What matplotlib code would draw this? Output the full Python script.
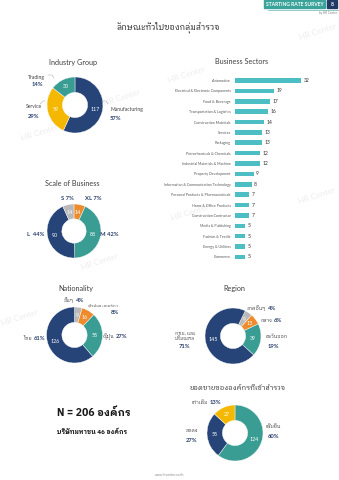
import matplotlib
matplotlib.use("Agg")
import numpy as np
import matplotlib.pyplot as plt
from matplotlib import font_manager as fm

# ---------------- data ----------------
title_main = "ลักษณะทั่วไปของกลุ่มสำรวจ"

industry_labels = ["Manufacturing", "Service", "Trading"]
industry_values = [117, 59, 30]
industry_pcts = ["57%", "29%", "14%"]

sector_names = ["Automotive", "Electrical & Electronic Components", "Food & Beverage",
                "Transportation & Logistics", "Construction Materials", "Services",
                "Packaging", "Petrochemicals & Chemicals", "Industrial Materials & Machine",
                "Property Development", "Information & Communication Technology",
                "Personal Products & Pharmaceuticals", "Home & Office Products",
                "Construction Contractor", "Media & Publishing", "Fashion & Textile",
                "Energy & Utilities", "Commerce"]
sector_values = [32, 19, 17, 16, 14, 13, 13, 12, 12, 9, 8, 7, 7, 7, 5, 5, 5, 5]

scale_labels = ["XL", "M", "L", "S"]
scale_values = [14, 88, 90, 14]
scale_pcts = ["7%", "42%", "44%", "7%"]

nation_labels = ["อื่นๆ", "ยุโรปและอเมริกา", "ญี่ปุ่น", "ไทย"]
nation_values = [9, 16, 55, 126]
nation_pcts = ["4%", "8%", "27%", "61%"]

region_labels = ["ภาคอื่นๆ", "กลาง", "ตะวันออก", "กทม. และ\nปริมณฑล"]
region_values = [9, 13, 39, 145]
region_pcts = ["4%", "6%", "19%", "71%"]

sales_title = "ยอดขายขององค์กรที่เข้าสำรวจ"
sales_labels = ["เพิ่มขึ้น", "ลดลง", "เท่าเดิม"]
sales_values = [124, 55, 27]
sales_pcts = ["60%", "27%", "13%"]

n_text = "N = 206 องค์กร"
public_text = "บริษัทมหาชน 46 องค์กร"

# ---------------- style ----------------
W, H = 339, 480
NAVY = "#264478"
TEAL = "#3a9d94"
YEL = "#f5b800"
ORG = "#ee8b2c"
GRAY = "#b9b9b9"
BAR = "#4dbfc4"
PCT = "#2a3f6b"
TXT = "#404040"

names = {f.name for f in fm.fontManager.ttflist}
thai = "DejaVu Sans"
for cand in ["IBM Plex Sans Thai Looped", "Noto Sans Thai Looped", "Noto Sans Thai",
             "Sarabun", "Prompt", "Kanit"]:
    if cand in names:
        thai = cand
        break
TH = [thai, "DejaVu Sans"]
EN = ["Lato", "DejaVu Sans"]

fig = plt.figure(figsize=(W / 100, H / 100), dpi=100)
fig.patch.set_facecolor("white")


def fx(x):
    return x / W


def fy(y):
    return 1 - y / H


def txt(x, y, s, size=5, fam=EN, **kw):
    kw.setdefault("ha", "center")
    kw.setdefault("va", "center")
    kw.setdefault("color", TXT)
    fig.text(fx(x), fy(y), s, fontsize=size, family=fam, **kw)


# watermarks
for (wx, wy) in [(318, 32), (187, 75), (122, 98), (40, 133), (317, 196),
                 (190, 213), (100, 262), (20, 318)]:
    txt(wx, wy, "HR Center", size=6, color="#ededed", rotation=18, zorder=-1)

# header
fig.patches.append(plt.Rectangle((fx(264), fy(8)), fx(61), 8 / H, transform=fig.transFigure,
                                 color="#3aa39a", zorder=1))
fig.patches.append(plt.Rectangle((fx(327), fy(8)), fx(10), 8 / H, transform=fig.transFigure,
                                 color="#223a66", zorder=1))
txt(294.5, 4, "STARTING RATE SURVEY", size=3.6, color="white", weight="bold")
txt(332, 4, "8", size=3.6, color="white", weight="bold")
fig.lines.append(plt.Line2D([fx(268), fx(339)], [fy(10), fy(10)], transform=fig.transFigure,
                            color="#3aa39a", lw=0.4))
txt(337, 13, "by HR Center", size=2.2, color="#808080", ha="right")

txt(168, 27, title_main, size=6, fam=TH, color="#222222")


def donut(cx, cy, r, values, colors, startangle=90):
    ax = fig.add_axes([fx(cx - r), fy(cy + r), 2 * r / W, 2 * r / H])
    wedges, _ = ax.pie(values, colors=colors, startangle=startangle, counterclock=False,
                       radius=1, wedgeprops=dict(width=0.55, edgecolor="white", linewidth=0.3))
    ax.set_xlim(-1, 1)
    ax.set_ylim(-1, 1)
    ax.set_aspect("equal")
    ax.axis("off")
    total = sum(values)
    ang = startangle
    for v, w in zip(values, wedges):
        mid = ang - v / total * 180
        ang -= v / total * 360
        th = np.deg2rad(mid)
        ax.text(0.72 * np.cos(th), 0.72 * np.sin(th), str(v), ha="center", va="center",
                fontsize=3.8, color="white", family=EN)
    return ax


def pct(x, y, s, **kw):
    kw.setdefault("ha", "left")
    txt(x, y, s, size=4.2, color=PCT, weight="bold", **kw)


# Industry group
txt(73, 62, "Industry Group", size=5.2)
donut(75, 105, 28, industry_values, [NAVY, YEL, TEAL])
txt(110, 110, industry_labels[0], size=3.6, ha="left")
pct(110, 119, industry_pcts[0])
txt(26, 107, industry_labels[1], size=3.6, ha="left")
pct(28, 116, industry_pcts[1])
txt(28, 77, industry_labels[2], size=3.6, ha="left")
pct(32, 85, industry_pcts[2])
for (xs, ys) in [([103, 106, 108], [101, 101, 104]), ([40, 43, 45], [104, 101, 101]),
                 ([48, 52, 54], [75, 75, 78])]:
    fig.lines.append(plt.Line2D([fx(v) for v in xs], [fy(v) for v in ys],
                                transform=fig.transFigure, color="#9a9a9a", lw=0.3))

# Business sectors bar chart
txt(242, 62, "Business Sectors", size=5.2)
n = len(sector_values)
step = 10.38
top = 80.5 - step / 2
axb = fig.add_axes([fx(235), fy(top + n * step), 70 / W, n * step / H])
ypos = list(range(n))
axb.barh(ypos, sector_values, height=0.44, color=BAR)
axb.set_ylim(n - 0.5, -0.5)
axb.set_xlim(0, 32 * 70 / 66)
axb.set_yticks(ypos)
axb.set_yticklabels(sector_names, fontsize=2.6, color="#555555", family=EN)
axb.tick_params(axis="y", length=0, pad=3)
axb.set_xticks([])
for s in axb.spines.values():
    s.set_visible(False)
axb.patch.set_alpha(0)
for i, v in enumerate(sector_values):
    axb.text(v + 1.2, i, str(v), va="center", ha="left", fontsize=3.6, color="#333333",
             family=EN)

# Scale of business
txt(72, 183, "Scale of Business", size=5.2)
donut(74, 231, 27, scale_values, [ORG, TEAL, NAVY, GRAY])
pct(85, 199, scale_labels[0] + " " + scale_pcts[0])
pct(100, 235, scale_labels[1] + " " + scale_pcts[1])
pct(44, 235, scale_labels[2] + "  " + scale_pcts[2], ha="right")
pct(74, 199, scale_labels[3] + " " + scale_pcts[3], ha="right")

# Nationality
txt(76, 289, "Nationality", size=5.2)
donut(74.5, 335, 28, nation_values, [GRAY, ORG, TEAL, NAVY])
txt(74, 300, nation_labels[0], size=3.6, fam=TH, ha="right")
pct(75.5, 300, nation_pcts[0])
txt(88, 305, nation_labels[1], size=3.0, fam=TH, ha="left")
pct(111, 312, nation_pcts[1])
txt(114, 337, nation_labels[2], size=3.6, fam=TH, ha="right")
pct(115.5, 337, nation_pcts[2])
txt(32, 338, nation_labels[3], size=3.6, fam=TH, ha="right")
pct(33.5, 338, nation_pcts[3])

# Region
txt(234, 289, "Region", size=5.2)
donut(233, 336, 28, region_values, [GRAY, ORG, TEAL, NAVY], startangle=64)
txt(266, 308, region_labels[0], size=3.6, fam=TH, ha="right")
pct(267.5, 308, region_pcts[0])
txt(272, 320, region_labels[1], size=3.6, fam=TH, ha="right")
pct(273.5, 320, region_pcts[1])
txt(265, 337, region_labels[2], size=3.6, fam=TH, ha="left")
pct(268, 346, region_pcts[2])
txt(185, 336, region_labels[3], size=3.4, fam=TH, linespacing=1.0)
pct(185, 347, region_pcts[3], ha="center")

# Sales
txt(238, 388, sales_title, size=5.0, fam=TH, color="#333333")
donut(235, 433, 28, sales_values, [TEAL, NAVY, YEL])
txt(265, 427, sales_labels[0], size=3.6, fam=TH, ha="left")
pct(268, 437, sales_pcts[0])
txt(192, 430, sales_labels[1], size=3.6, fam=TH)
pct(192, 440, sales_pcts[1], ha="center")
txt(208, 403, sales_labels[2], size=3.6, fam=TH, ha="right")
pct(209.5, 403, sales_pcts[2])

# N text
txt(57, 413, n_text, size=7.5, fam=TH, ha="left", color="#1a1a1a", weight="bold")
txt(57, 432, public_text, size=4.6, fam=TH, ha="left", color="#1a1a1a", weight="bold")

txt(170, 475, "www.hrcenter.co.th", size=2.4, color="#888888")

fig.savefig("out.png", dpi=100)
